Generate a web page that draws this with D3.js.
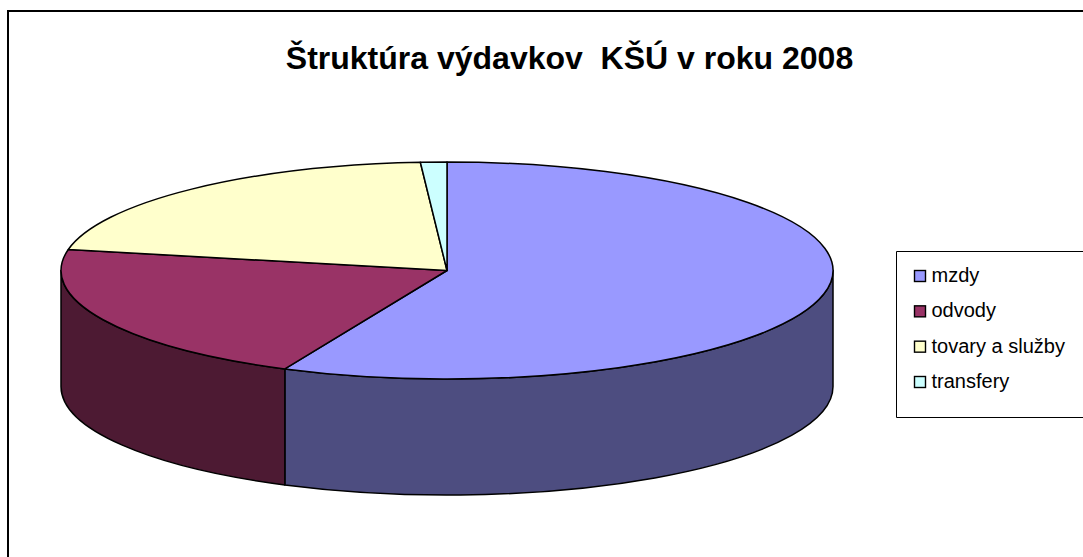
<!DOCTYPE html>
<html>
<head>
<meta charset="utf-8">
<script src="https://cdn.jsdelivr.net/npm/d3@7"></script>
<style>
html,body{margin:0;padding:0;background:#fff;overflow:hidden}
svg{display:block}
text{font-family:"Liberation Sans",Arial,sans-serif;fill:#000}
</style>
</head>
<body>
<svg id="c" width="1083" height="557"></svg>
<script>
const categories = ["mzdy", "odvody", "tovary a služby", "transfery"];
const values = [56.9, 21.2, 20.8, 1.1];
const topColors = ["#9999ff", "#993366", "#ffffcc", "#ccffff"];
const sideColors = ["#4d4d80", "#4d1a33", "#808066", "#668080"];
const titleText = "Štruktúra výdavkov  KŠÚ v roku 2008";

const W = 1083, H = 557;
const cx = 447, cy = 270.5, rx = 386, ry = 108.5, depth = 116;
const svg = d3.select("#c");

// frame: left and top edges only, the rest is cropped off the picture
svg.append("path").attr("d", `M8,${H}V11H${W}`)
  .attr("fill", "none").attr("stroke", "#000").attr("stroke-width", 2);

svg.append("text").attr("x", 569.5).attr("y", 69).attr("text-anchor", "middle")
  .attr("font-size", 32).attr("font-weight", "bold")
  .style("white-space", "pre").text(titleText);

const arcs = d3.pie().sort(null).value(d => d)(values);
const px = a => cx + rx * Math.sin(a), py = a => cy - ry * Math.cos(a);

// side walls: only the front half of the rim (angle PI/2 to 3PI/2) is visible
const wall = svg.append("g");
arcs.forEach((d, i) => {
  const a0 = Math.max(d.startAngle, Math.PI / 2), a1 = Math.min(d.endAngle, 1.5 * Math.PI);
  if (a1 <= a0) return;
  const p = `M${px(a0)},${py(a0)}A${rx},${ry} 0 0 1 ${px(a1)},${py(a1)}` +
            `V${py(a1) + depth}A${rx},${ry} 0 0 0 ${px(a0)},${py(a0) + depth}Z`;
  wall.append("path").attr("d", p).attr("fill", sideColors[i])
    .attr("stroke", "#000").attr("stroke-width", 1.5).attr("stroke-linejoin", "round");
});

// top face: circular arcs squashed into the ellipse
const arc = d3.arc().innerRadius(0).outerRadius(rx);
svg.append("g").attr("transform", `translate(${cx},${cy}) scale(1,${ry / rx})`)
  .selectAll("path").data(arcs).join("path")
  .attr("d", arc)
  .attr("fill", (d, i) => topColors[i])
  .attr("stroke", "#000").attr("stroke-width", 1.5).attr("stroke-linejoin", "round")
  .attr("vector-effect", "non-scaling-stroke");

// legend
svg.append("path").attr("d", `M${W},251.5H896.5V417.5H${W}`)
  .attr("fill", "#fff").attr("stroke", "#000").attr("stroke-width", 1);
const y = d3.scalePoint().domain(categories).range([276, 382]);
const rows = svg.append("g").selectAll("g").data(categories).join("g")
  .attr("transform", d => `translate(0,${y(d)})`);
rows.append("rect").attr("x", 914.5).attr("y", -5.5).attr("width", 11).attr("height", 11)
  .attr("fill", (d, i) => topColors[i]).attr("stroke", "#000").attr("stroke-width", 1.4);
rows.append("text").attr("x", 931.5).attr("y", 6).attr("font-size", 20).text(d => d);
</script>
</body>
</html>
